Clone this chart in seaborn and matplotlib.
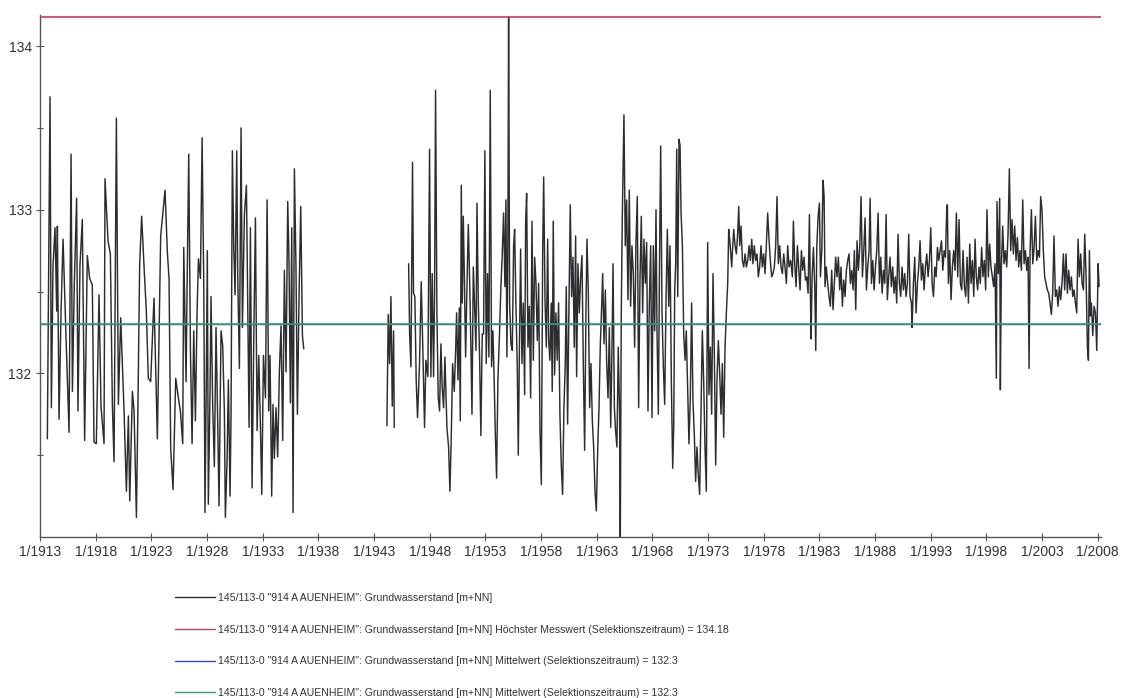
import matplotlib
matplotlib.use("Agg")
import matplotlib.pyplot as plt
from matplotlib.lines import Line2D
import numpy as np
import pandas as pd
import seaborn as sns

# ---------------- data (decimal year, groundwater level m+NN) ----------------
seg_1913_1936 = [
    (1913.66, 131.60), (1913.90, 133.69), (1914.02, 131.79), (1914.17, 132.66), (1914.35, 132.89),
    (1914.50, 132.38), (1914.56, 132.90), (1914.71, 131.72), (1914.89, 132.38), (1915.07, 132.82),
    (1915.31, 132.28), (1915.61, 131.64), (1915.79, 133.34), (1915.91, 131.89), (1916.08, 132.54),
    (1916.29, 133.07), (1916.41, 131.77), (1916.59, 132.66), (1916.80, 132.94), (1917.01, 131.59),
    (1917.25, 132.72), (1917.46, 132.58), (1917.70, 132.54), (1917.85, 131.58), (1918.06, 131.57),
    (1918.30, 132.48), (1918.48, 131.80), (1918.75, 131.57), (1918.84, 133.19), (1919.11, 132.81),
    (1919.32, 132.73), (1919.50, 131.81), (1919.65, 131.46), (1919.86, 133.56), (1920.04, 131.81),
    (1920.25, 132.34), (1920.55, 131.77), (1920.76, 131.28), (1920.94, 131.74), (1921.06, 131.22),
    (1921.30, 131.89), (1921.45, 131.77), (1921.66, 131.12), (1921.81, 131.87), (1921.95, 132.66),
    (1922.13, 132.96), (1922.34, 132.66), (1922.55, 132.38), (1922.73, 131.97), (1922.94, 131.95),
    (1923.24, 132.46), (1923.54, 131.60), (1923.84, 132.84), (1924.23, 133.12), (1924.44, 132.74),
    (1924.59, 132.58), (1924.74, 131.54), (1924.95, 131.29), (1925.19, 131.97), (1925.43, 131.85),
    (1925.61, 131.77), (1925.82, 131.57), (1925.91, 132.77), (1926.12, 131.95), (1926.21, 132.52),
    (1926.36, 133.34), (1926.51, 132.15), (1926.66, 131.57), (1926.81, 132.26), (1926.96, 131.71),
    (1927.11, 132.38), (1927.23, 132.70), (1927.41, 132.58), (1927.56, 133.44), (1927.71, 132.54),
    (1927.82, 131.15), (1927.94, 131.99), (1928.03, 132.75), (1928.12, 131.20), (1928.27, 131.87),
    (1928.36, 132.47), (1928.51, 131.81), (1928.66, 131.43), (1928.81, 132.28), (1928.96, 131.71),
    (1929.08, 131.19), (1929.26, 132.26), (1929.41, 132.17), (1929.56, 131.77), (1929.65, 131.12),
    (1929.80, 131.46), (1929.92, 131.96), (1930.07, 131.25), (1930.16, 131.75), (1930.28, 133.36),
    (1930.40, 132.78), (1930.52, 132.48), (1930.67, 133.36), (1930.76, 132.60), (1930.91, 132.03),
    (1931.06, 133.50), (1931.18, 132.28), (1931.36, 132.97), (1931.54, 133.15), (1931.66, 132.38),
    (1931.78, 131.67), (1931.90, 132.89), (1932.05, 131.30), (1932.20, 132.21), (1932.35, 132.95),
    (1932.50, 131.65), (1932.65, 132.11), (1932.80, 131.67), (1932.92, 131.26), (1933.07, 132.11),
    (1933.25, 131.85), (1933.40, 133.06), (1933.54, 131.77), (1933.66, 132.11), (1933.81, 131.25),
    (1933.93, 131.81), (1934.05, 131.48), (1934.20, 131.79), (1934.35, 131.49), (1934.50, 132.01),
    (1934.65, 132.29), (1934.80, 131.59), (1934.95, 132.63), (1935.10, 132.01), (1935.25, 133.05),
    (1935.37, 132.66), (1935.49, 131.82), (1935.61, 132.89), (1935.73, 131.15), (1935.85, 133.25),
    (1935.99, 132.66), (1936.12, 131.75), (1936.27, 132.48), (1936.42, 133.02), (1936.57, 132.23),
    (1936.69, 132.15),
]

seg_1944 = [
    (1944.16, 131.68), (1944.28, 132.36), (1944.40, 132.06), (1944.52, 132.47), (1944.64, 131.80),
    (1944.76, 132.26), (1944.82, 131.67),
]

seg_1946_1980 = [
    (1946.11, 132.67), (1946.20, 132.24), (1946.32, 132.04), (1946.46, 133.29), (1946.55, 132.49),
    (1946.67, 132.47), (1946.79, 131.96), (1946.91, 131.73), (1947.09, 132.06), (1947.24, 132.56),
    (1947.39, 132.14), (1947.54, 131.67), (1947.66, 132.08), (1947.84, 131.98), (1947.99, 133.37),
    (1948.11, 131.98), (1948.23, 132.61), (1948.35, 131.98), (1948.44, 132.49), (1948.53, 133.73),
    (1948.65, 132.37), (1948.77, 131.85), (1948.89, 131.77), (1949.01, 132.18), (1949.13, 131.91),
    (1949.25, 131.79), (1949.37, 132.10), (1949.55, 131.67), (1949.70, 131.55), (1949.82, 131.28),
    (1949.94, 131.61), (1950.06, 132.06), (1950.21, 131.89), (1950.33, 132.14), (1950.42, 132.37),
    (1950.54, 131.96), (1950.66, 132.40), (1950.75, 131.71), (1950.84, 133.15), (1950.93, 132.43),
    (1951.02, 132.96), (1951.11, 132.61), (1951.23, 132.10), (1951.35, 132.53), (1951.47, 132.91),
    (1951.59, 132.57), (1951.71, 132.14), (1951.80, 131.75), (1951.92, 132.65), (1952.04, 132.41),
    (1952.16, 132.14), (1952.25, 133.04), (1952.37, 132.43), (1952.49, 132.08), (1952.60, 131.62),
    (1952.72, 132.24), (1952.84, 132.24), (1952.96, 133.36), (1953.08, 132.06), (1953.20, 132.61),
    (1953.32, 132.10), (1953.44, 133.73), (1953.56, 132.04), (1953.68, 132.26), (1953.80, 131.94),
    (1953.89, 131.65), (1954.01, 131.36), (1954.13, 131.96), (1954.28, 132.26), (1954.40, 132.53),
    (1954.52, 132.73), (1954.64, 132.98), (1954.76, 132.53), (1954.85, 133.06), (1954.94, 132.10),
    (1955.03, 132.88), (1955.09, 134.18), (1955.18, 132.43), (1955.30, 132.18), (1955.42, 132.14),
    (1955.54, 132.78), (1955.63, 132.88), (1955.75, 132.41), (1955.87, 132.04), (1955.96, 131.50),
    (1956.08, 132.26), (1956.17, 132.76), (1956.29, 132.06), (1956.41, 132.43), (1956.53, 131.87),
    (1956.62, 132.92), (1956.71, 133.10), (1956.83, 132.16), (1956.95, 132.41), (1957.07, 131.85),
    (1957.19, 132.93), (1957.31, 132.08), (1957.43, 132.71), (1957.55, 132.55), (1957.67, 132.20),
    (1957.79, 132.55), (1957.91, 131.65), (1958.03, 131.32), (1958.15, 132.73), (1958.24, 133.20),
    (1958.36, 132.45), (1958.48, 132.16), (1958.60, 132.82), (1958.69, 132.20), (1958.80, 132.08),
    (1958.92, 132.43), (1959.01, 131.89), (1959.10, 132.93), (1959.22, 131.99), (1959.34, 132.37),
    (1959.46, 132.08), (1959.58, 132.43), (1959.70, 131.75), (1959.82, 131.44), (1959.94, 131.26),
    (1960.06, 131.79), (1960.18, 132.06), (1960.27, 132.53), (1960.39, 131.69), (1960.51, 132.41),
    (1960.63, 133.03), (1960.75, 132.47), (1960.87, 132.71), (1960.99, 132.16), (1961.11, 132.84),
    (1961.20, 131.98), (1961.32, 132.67), (1961.44, 132.37), (1961.56, 132.59), (1961.68, 132.72),
    (1961.80, 132.06), (1961.92, 131.53), (1962.04, 132.39), (1962.13, 132.82), (1962.25, 132.49),
    (1962.37, 131.79), (1962.49, 132.06), (1962.61, 131.71), (1962.73, 131.55), (1962.85, 131.28),
    (1962.97, 131.16), (1963.09, 131.53), (1963.21, 131.79), (1963.33, 132.18), (1963.45, 132.41),
    (1963.54, 132.61), (1963.66, 132.18), (1963.78, 132.51), (1963.90, 132.06), (1964.02, 131.85),
    (1964.14, 132.28), (1964.26, 131.67), (1964.38, 132.16), (1964.47, 132.67), (1964.59, 131.79),
    (1964.70, 131.65), (1964.82, 131.55), (1964.94, 132.16), (1965.06, 131.75), (1965.12, 130.95),
    (1965.21, 132.37), (1965.30, 132.94), (1965.45, 133.58), (1965.57, 132.78), (1965.69, 133.06),
    (1965.81, 132.45), (1965.93, 133.12), (1966.05, 132.41), (1966.17, 132.78), (1966.29, 132.61),
    (1966.41, 132.16), (1966.53, 132.80), (1966.65, 133.08), (1966.77, 131.79), (1966.89, 132.57),
    (1967.01, 132.96), (1967.13, 132.37), (1967.25, 132.82), (1967.37, 132.55), (1967.49, 132.80),
    (1967.61, 131.77), (1967.73, 132.43), (1967.85, 132.78), (1967.97, 131.73), (1968.09, 132.78),
    (1968.21, 132.26), (1968.33, 133.00), (1968.42, 132.26), (1968.54, 131.75), (1968.66, 132.78),
    (1968.75, 133.39), (1968.87, 132.37), (1968.99, 132.04), (1969.11, 131.81), (1969.23, 132.45),
    (1969.35, 132.88), (1969.47, 132.41), (1969.59, 132.78), (1969.71, 131.94), (1969.83, 131.42),
    (1969.92, 131.67), (1970.01, 132.51), (1970.10, 132.67), (1970.19, 133.37), (1970.28, 132.47),
    (1970.40, 133.43), (1970.49, 133.39), (1970.58, 132.98), (1970.70, 132.78), (1970.82, 132.24),
    (1970.94, 132.08), (1971.05, 132.26), (1971.17, 131.91), (1971.29, 131.57), (1971.41, 131.85),
    (1971.53, 132.43), (1971.65, 131.83), (1971.77, 131.63), (1971.89, 131.34), (1972.01, 131.55),
    (1972.13, 131.38), (1972.25, 131.26), (1972.37, 131.75), (1972.49, 132.26), (1972.61, 131.96),
    (1972.73, 131.55), (1972.85, 131.28), (1972.97, 132.80), (1973.09, 131.87), (1973.21, 132.16),
    (1973.33, 131.75), (1973.45, 132.61), (1973.57, 132.12), (1973.69, 131.44), (1973.81, 131.96),
    (1973.93, 132.20), (1974.05, 132.00), (1974.17, 131.75), (1974.29, 132.06), (1974.41, 131.61),
    (1974.53, 132.16), (1974.65, 132.37), (1974.77, 132.55), (1974.86, 132.88), (1974.95, 132.82),
    (1975.04, 132.73), (1975.13, 132.65), (1975.22, 132.78), (1975.31, 132.88), (1975.43, 132.78),
    (1975.55, 132.73), (1975.67, 132.86), (1975.76, 133.02), (1975.85, 132.78), (1975.97, 132.90),
    (1976.09, 132.69), (1976.21, 132.65), (1976.33, 132.73), (1976.45, 132.65), (1976.57, 132.69),
    (1976.69, 132.78), (1976.81, 132.69), (1976.93, 132.82), (1977.04, 132.67), (1977.16, 132.78),
    (1977.28, 132.69), (1977.40, 132.73), (1977.52, 132.59), (1977.64, 132.65), (1977.76, 132.78),
    (1977.88, 132.65), (1978.00, 132.73), (1978.12, 132.61), (1978.24, 132.78), (1978.36, 132.98),
    (1978.48, 132.82), (1978.60, 132.69), (1978.72, 132.59), (1978.84, 132.61), (1978.96, 132.65),
    (1979.08, 132.78), (1979.20, 133.08), (1979.32, 132.67), (1979.44, 132.78), (1979.56, 132.65),
    (1979.68, 132.61), (1979.80, 132.73), (1979.92, 132.65), (1980.04, 132.55), (1980.16, 132.78),
    (1980.28, 132.65),
]

seg_1980_2008 = [
    (1980.43, 132.69), (1980.58, 132.59), (1980.67, 132.93), (1980.79, 132.67), (1980.91, 132.53),
    (1981.03, 132.78), (1981.15, 132.65), (1981.27, 132.51), (1981.39, 132.75), (1981.51, 132.63),
    (1981.63, 132.71), (1981.75, 132.57), (1981.87, 132.59), (1981.99, 132.49), (1982.11, 132.97),
    (1982.20, 132.47), (1982.26, 132.21), (1982.35, 132.59), (1982.47, 132.77), (1982.59, 132.53),
    (1982.68, 132.14), (1982.77, 132.77), (1982.89, 132.96), (1983.01, 133.04), (1983.10, 132.59),
    (1983.22, 132.75), (1983.33, 133.18), (1983.43, 133.08), (1983.51, 132.53), (1983.63, 132.65),
    (1983.75, 132.55), (1983.87, 132.47), (1983.99, 132.41), (1984.11, 132.63), (1984.23, 132.39),
    (1984.35, 132.55), (1984.47, 132.71), (1984.59, 132.59), (1984.71, 132.71), (1984.83, 132.51),
    (1984.95, 132.65), (1985.07, 132.41), (1985.19, 132.57), (1985.31, 132.47), (1985.43, 132.63),
    (1985.55, 132.69), (1985.67, 132.73), (1985.79, 132.55), (1985.91, 132.63), (1986.03, 132.51),
    (1986.15, 132.75), (1986.27, 132.39), (1986.39, 132.81), (1986.51, 132.63), (1986.63, 132.77),
    (1986.75, 133.08), (1986.87, 132.59), (1986.99, 132.75), (1987.11, 132.95), (1987.23, 132.51),
    (1987.35, 132.65), (1987.47, 132.75), (1987.56, 133.07), (1987.68, 132.55), (1987.80, 132.69),
    (1987.92, 132.51), (1988.04, 132.65), (1988.16, 132.75), (1988.28, 132.98), (1988.40, 132.55),
    (1988.52, 132.71), (1988.64, 132.49), (1988.76, 132.63), (1988.88, 132.55), (1989.00, 132.97),
    (1989.11, 132.45), (1989.23, 132.59), (1989.35, 132.71), (1989.47, 132.53), (1989.59, 132.65),
    (1989.71, 132.49), (1989.83, 132.59), (1989.95, 132.43), (1990.07, 132.85), (1990.19, 132.55),
    (1990.31, 132.47), (1990.43, 132.65), (1990.55, 132.51), (1990.67, 132.61), (1990.79, 132.47),
    (1990.91, 132.55), (1991.03, 132.85), (1991.15, 132.47), (1991.27, 132.43), (1991.33, 132.28),
    (1991.45, 132.55), (1991.57, 132.71), (1991.69, 132.37), (1991.81, 132.55), (1991.93, 132.65),
    (1992.05, 132.81), (1992.17, 132.57), (1992.29, 132.67), (1992.41, 132.51), (1992.53, 132.65),
    (1992.65, 132.73), (1992.77, 132.59), (1992.89, 132.69), (1993.01, 132.89), (1993.13, 132.55),
    (1993.25, 132.47), (1993.37, 132.65), (1993.49, 132.59), (1993.61, 132.77), (1993.73, 132.69),
    (1993.85, 132.75), (1993.97, 132.81), (1994.09, 132.63), (1994.21, 132.75), (1994.33, 132.71),
    (1994.45, 133.02), (1994.50, 133.03), (1994.59, 132.55), (1994.71, 132.75), (1994.83, 132.45),
    (1994.95, 132.65), (1995.07, 132.75), (1995.19, 132.63), (1995.31, 132.98), (1995.43, 132.59),
    (1995.55, 132.94), (1995.67, 132.55), (1995.79, 132.51), (1995.91, 132.75), (1996.03, 132.53),
    (1996.15, 132.47), (1996.27, 132.71), (1996.39, 132.43), (1996.51, 132.79), (1996.63, 132.55),
    (1996.75, 132.69), (1996.87, 132.47), (1996.99, 132.82), (1997.10, 132.59), (1997.22, 132.51),
    (1997.34, 132.65), (1997.46, 132.55), (1997.58, 132.77), (1997.70, 132.59), (1997.82, 132.69),
    (1997.94, 132.51), (1998.06, 133.00), (1998.18, 132.59), (1998.30, 132.79), (1998.42, 132.65),
    (1998.54, 132.59), (1998.66, 132.53), (1998.78, 132.67), (1998.90, 131.97), (1998.96, 133.05),
    (1999.08, 132.61), (1999.20, 133.07), (1999.26, 131.90), (1999.35, 132.65), (1999.47, 132.90),
    (1999.59, 132.67), (1999.71, 132.75), (1999.83, 132.65), (1999.95, 132.85), (2000.07, 133.25),
    (2000.19, 132.75), (2000.31, 132.94), (2000.43, 132.73), (2000.55, 132.90), (2000.67, 132.69),
    (2000.79, 132.83), (2000.91, 132.65), (2001.03, 132.75), (2001.15, 132.63), (2001.27, 133.06),
    (2001.39, 132.67), (2001.51, 132.75), (2001.63, 132.63), (2001.75, 132.71), (2001.84, 132.03),
    (2001.93, 132.75), (2002.05, 133.00), (2002.17, 132.67), (2002.29, 132.77), (2002.41, 132.96),
    (2002.53, 132.69), (2002.65, 132.75), (2002.77, 132.71), (2002.88, 133.08), (2003.00, 133.00),
    (2003.12, 132.75), (2003.24, 132.59), (2003.36, 132.55), (2003.48, 132.51), (2003.60, 132.49),
    (2003.72, 132.43), (2003.84, 132.36), (2003.96, 132.49), (2004.08, 132.84), (2004.20, 132.47),
    (2004.32, 132.51), (2004.44, 132.41), (2004.56, 132.53), (2004.68, 132.45), (2004.80, 132.55),
    (2004.92, 132.73), (2005.04, 132.51), (2005.16, 132.73), (2005.28, 132.49), (2005.40, 132.63),
    (2005.52, 132.51), (2005.64, 132.59), (2005.76, 132.47), (2005.88, 132.51), (2006.00, 132.43),
    (2006.12, 132.37), (2006.24, 132.82), (2006.36, 132.59), (2006.48, 132.73), (2006.60, 132.55),
    (2006.72, 132.51), (2006.84, 132.85), (2006.96, 132.59), (2007.08, 132.16), (2007.17, 132.08),
    (2007.26, 132.75), (2007.35, 132.35), (2007.44, 132.43), (2007.56, 132.23), (2007.68, 132.41),
    (2007.80, 132.37), (2007.92, 132.14), (2008.04, 132.67), (2008.13, 132.53),
]

highest_value = 134.18
mean_value = 132.3

tick_years = list(range(1913, 2009, 5))
tick_labels = [f"1/{y}" for y in tick_years]
y_major = [132, 133, 134]
y_minor = [131.5, 132.5, 133.5]

station = '145/113-0 "914 A AUENHEIM": Grundwasserstand [m+NN]'
legend_labels = [
    station,
    f"{station} Höchster Messwert (Selektionszeitraum) = {highest_value}",
    f"{station} Mittelwert (Selektionszeitraum) = {mean_value}",
    f"{station} Mittelwert (Selektionszeitraum) = {mean_value}",
]

# ---------------- build table ----------------
frames = []
for i, seg in enumerate([seg_1913_1936, seg_1944, seg_1946_1980, seg_1980_2008]):
    yrs, lv = zip(*seg)
    frames.append(pd.DataFrame({"year": yrs, "level": lv, "segment": i}))
df = pd.concat(frames, ignore_index=True)
# the 1980 split is only a reading boundary: join it to the 1946 segment
df.loc[df["segment"] == 3, "segment"] = 2

# ---------------- plot ----------------
sns.set_theme(style="white")
plt.rcParams["font.family"] = ["Liberation Sans", "DejaVu Sans"]

W, H = 1125, 698
fig = plt.figure(figsize=(W / 100, H / 100), dpi=100)
ax = fig.add_axes([40 / W, 1 - 537 / H, (1101 - 40) / W, (537 - 15) / H])

c_series = "#2c2c31"
c_max = "#cc3a5a"
c_blue = "#3a4aa8"
c_green = "#3d9c72"

sns.lineplot(data=df, x="year", y="level", units="segment", estimator=None,
             sort=False, color=c_series, lw=1.05, ax=ax, legend=False)
ax.axhline(highest_value, color=c_max, lw=1.2, zorder=4)
ax.axhline(mean_value, color=c_blue, lw=1.0, zorder=4)
ax.axhline(mean_value, color=c_green, lw=1.1, zorder=5)

ax.set_xlim(1913.0, 2008.3)
ax.set_ylim(131.0, 134.19)
ax.set_xticks(tick_years)
ax.set_xticklabels(tick_labels)
ax.set_yticks(y_major)
ax.set_yticklabels([str(v) for v in y_major])
ax.set_yticks(y_minor, minor=True)
ax.set_xlabel("")
ax.set_ylabel("")

for s in ["top", "right"]:
    ax.spines[s].set_visible(False)
for s in ["left", "bottom"]:
    ax.spines[s].set_color("#555555")
    ax.spines[s].set_linewidth(1.0)

ax.tick_params(axis="both", which="major", direction="inout", length=6, width=0.8,
               color="#555555", labelsize=10, labelcolor="#333333", pad=3,
               bottom=True, left=True)
ax.tick_params(axis="y", which="minor", direction="inout", length=5, width=0.8,
               color="#555555", left=True)

handles = [Line2D([], [], color=c, lw=1.0) for c in [c_series, c_max, c_blue, c_green]]
leg = fig.legend(handles, legend_labels, loc="upper left",
                 bbox_to_anchor=(175 / W, 1 - 593 / H), frameon=False,
                 fontsize=7.6, handlelength=3.8, handletextpad=0.3,
                 labelspacing=2.05, borderpad=0, borderaxespad=0)
for t in leg.get_texts():
    t.set_color("#333333")

fig.savefig("out.png", dpi=100, facecolor="white")
